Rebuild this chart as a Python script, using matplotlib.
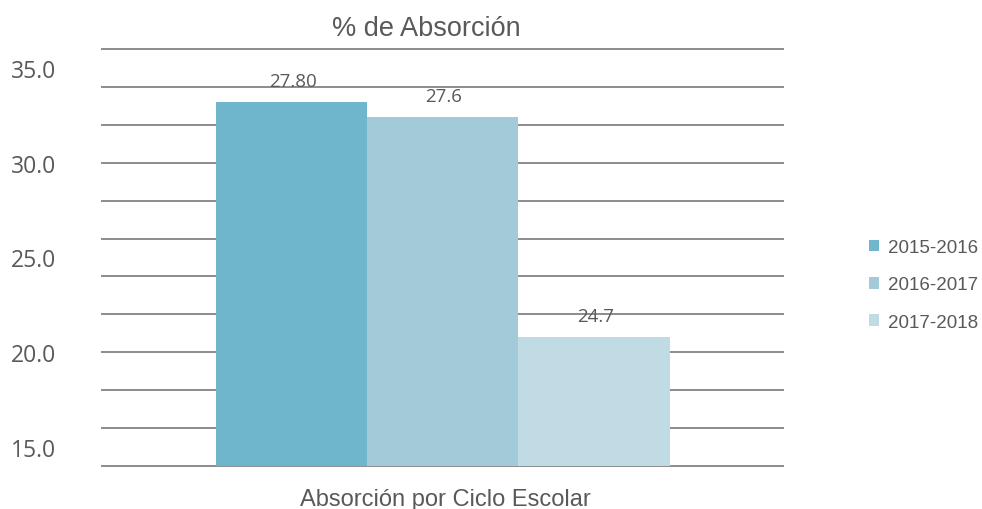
import numpy as np
import matplotlib
matplotlib.use("Agg")
import matplotlib.pyplot as plt

# data as shown on the chart
series = ["2015-2016", "2016-2017", "2017-2018"]
values = [27.80, 27.6, 24.7]
value_labels = ["27.80", "27.6", "24.7"]
colors = ["#6FB6CC", "#A2CAD9", "#C1DBE4"]
category = "Absorción por Ciclo Escolar"
title = "% de Absorción"

# the printed axis labels do not match the bar scale in the original
shown_ticks = [15.0, 20.0, 25.0, 30.0, 35.0]

TEXT = "#595959"
GRID = "#8C8C8C"

fig = plt.figure(figsize=(9.82, 5.10), dpi=100)
ax = fig.add_axes([102 / 982, 1 - 467 / 510, 681 / 982, 417 / 510])

ax.set_ylim(23.0, 28.5)
ax.set_xlim(-2.25, 2.25)
ax.set_yticks(np.arange(23.0, 28.51, 0.5))
ax.yaxis.grid(True, color=GRID, linewidth=1.4)
ax.set_axisbelow(True)
for gl in ax.get_ygridlines():
    gl.set_clip_on(False)
for sp in ax.spines.values():
    sp.set_visible(False)

offsets = np.arange(len(series)) - (len(series) - 1) / 2
bars = []
for off, v, lab, c, name in zip(offsets, values, value_labels, colors, series):
    b = ax.bar(off, v - 23.0, bottom=23.0, width=1.0, color=c, label=name, zorder=2)
    bars.append(b)
    ax.annotate(lab, (off, v), xytext=(1, 15), textcoords="offset points",
                ha="center", va="center", fontsize=13.5, color=TEXT,
                family="Open Sans", zorder=3)

# tick labels on a separate scale, as printed in the original
ax2 = ax.twinx()
ax2.set_ylim(14, 36)
ax2.yaxis.tick_left()
ax2.set_yticks(shown_ticks)
ax2.set_yticklabels([f"{t:.1f}" for t in shown_ticks], family="Open Sans",
                    fontsize=16.5, color=TEXT)
ax2.tick_params(axis="y", length=0, pad=33)
for sp in ax2.spines.values():
    sp.set_visible(False)

# twinx turns the left ticks of the main axes back on
ax.tick_params(left=False, right=False, bottom=False,
               labelleft=False, labelright=False, labelbottom=False)

fig.text(426 / 982, 1 - 36 / 510, title, ha="center", va="baseline",
         fontsize=19.5, color=TEXT, family="Liberation Sans")
fig.text(445 / 982, 1 - 506 / 510, category, ha="center", va="baseline",
         fontsize=17, color=TEXT, family="Liberation Sans")

fig.legend(handles=[b[0] for b in bars], labels=series,
           loc="center left", bbox_to_anchor=(869 / 982, 1 - 286 / 510),
           frameon=False, handlelength=0.55, handleheight=0.55,
           handletextpad=0.45, labelspacing=1.08, borderpad=0, borderaxespad=0,
           labelcolor=TEXT, prop={"family": "Liberation Sans", "size": 13.5})

fig.savefig("out.png", dpi=100, facecolor="white")
